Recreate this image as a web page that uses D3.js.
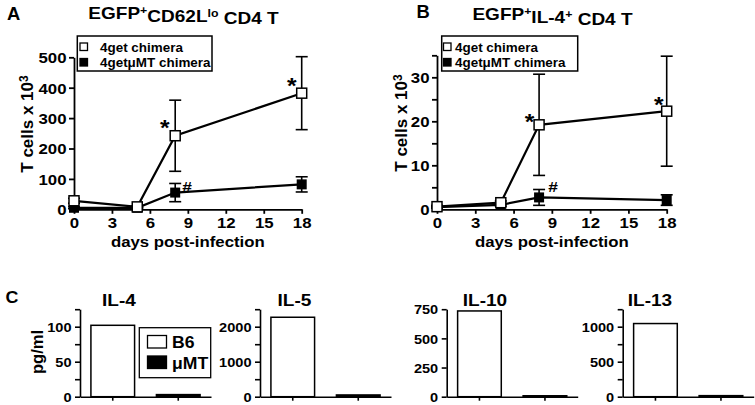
<!DOCTYPE html>
<html><head><meta charset="utf-8">
<script src="https://cdn.jsdelivr.net/npm/d3@7"></script>
<style>
body{margin:0;background:#fff}
svg{display:block}
text{font-family:"Liberation Sans",Arial,sans-serif;font-weight:bold;fill:#000}
</style>
</head><body>
<svg id="c" width="755" height="405"></svg>
<script>
// ---------- data ----------
const days = [0, 5, 8, 18];
const xTicks = [0, 3, 6, 9, 12, 15, 18];
const seriesNames = ["4get chimera", "4getμMT chimera"];

const aGet = [28, 8, 242, 382];
const aGetErr = [8, 3, 117, 120];
const aMT = [5, 5, 55, 82];
const aMTErr = [3, 2, 30, 25];
const aYTicks = [0, 100, 200, 300, 400, 500];

const bGet = [0.6, 1.5, 19.2, 22.3];
const bGetErr = [0.3, 0.4, 11.5, 12.5];
const bMT = [0.5, 1.0, 2.7, 2.1];
const bMTErr = [0.2, 0.3, 1.8, 1.2];
const bYTicks = [0, 10, 20, 30];
const bYMinor = [5, 15, 25, 35];

const cytokines = ["IL-4", "IL-5", "IL-10", "IL-13"];
const groups = ["B6", "μMT"];
const b6Vals = [102, 2270, 735, 1045];
const mtVals = [3, 50, 8, 15];
const cMax = [125, 2500, 750, 1250];
const cTicks = [[0, 50, 100], [0, 1000, 2000], [0, 250, 500, 750], [0, 500, 1000]];
const cMinor = [[25, 75, 125], [500, 1500, 2500], [], [250, 750, 1250]];

// ---------- helpers ----------
const SX = 1.12;
const svg = d3.select("#c");

function txt(x, y, str, size, anchor, sx) {
  return svg.append("text")
    .attr("transform", `translate(${x},${y}) scale(${sx == null ? SX : sx},1)`)
    .attr("text-anchor", anchor || "start")
    .style("font-size", size + "px")
    .text(str);
}

function styleAxis(g, w) {
  g.selectAll("path.domain").attr("stroke", "#000").attr("stroke-width", w);
  g.selectAll(".tick line").attr("stroke", "#000").attr("stroke-width", w);
}

function linePanel(o) {
  const x = d3.scaleLinear().domain([0, 18]).range([o.x0, o.x1]);
  const y = d3.scaleLinear().domain([0, o.ymax]).range([o.y0, o.y1]);

  // y axis
  const gy = svg.append("g").attr("transform", `translate(${o.x0},0)`)
    .call(d3.axisLeft(y).tickValues(o.yTicks.concat(o.yMinor || [])).tickSize(5).tickSizeOuter(0)
      .tickFormat(d => o.yTicks.includes(d) ? d : ""));
  styleAxis(gy, 1.8);
  gy.selectAll("text").attr("x", -7.5 / SX).attr("dy", "0.36em")
    .attr("transform", `scale(${SX},1)`).style("font-size", "15px")
    .style("font-family", '"Liberation Sans",Arial,sans-serif').style("font-weight", "bold");

  // x axis
  const gx = svg.append("g").attr("transform", `translate(0,${o.y0})`)
    .call(d3.axisBottom(x).tickValues(xTicks).tickSize(4.5).tickSizeOuter(0));
  styleAxis(gx, 1.8);
  gx.selectAll("text").attr("y", 19).attr("dy", 0)
    .attr("transform", `scale(${SX},1)`).style("font-size", "15px")
    .style("font-family", '"Liberation Sans",Arial,sans-serif').style("font-weight", "bold");

  txt((o.x0 + o.x1) / 2, 246.5, "days post-infection", 15, "middle");

  // y title
  const yt = svg.append("text")
    .attr("transform", `translate(${o.ytX},${o.ytY}) rotate(-90)`)
    .attr("text-anchor", "middle").style("font-size", "17px");
  yt.append("tspan").text("T cells x 10");
  yt.append("tspan").attr("dy", "-0.45em").style("font-size", "12px").text("3");

  const line = d3.line().x((d, i) => x(days[i])).y(d => y(d));

  function series(vals, errs, filled) {
    const g = svg.append("g");
    g.append("path").datum(vals).attr("d", line).attr("fill", "none")
      .attr("stroke", "#000").attr("stroke-width", 2.2);
    const eb = g.selectAll(".eb").data(vals).join("g");
    eb.append("line").attr("x1", (d, i) => x(days[i])).attr("x2", (d, i) => x(days[i]))
      .attr("y1", (d, i) => y(d - errs[i])).attr("y2", (d, i) => y(d + errs[i]))
      .attr("stroke", "#000").attr("stroke-width", 1.6);
    [-1, 1].forEach(s => {
      eb.append("line").attr("x1", (d, i) => x(days[i]) - 6).attr("x2", (d, i) => x(days[i]) + 6)
        .attr("y1", (d, i) => y(d + s * errs[i])).attr("y2", (d, i) => y(d + s * errs[i]))
        .attr("stroke", "#000").attr("stroke-width", 1.6);
    });
    const sz = filled ? 8.5 : 10;
    g.selectAll("rect").data(vals).join("rect")
      .attr("x", (d, i) => x(days[i]) - sz / 2).attr("y", d => y(d) - sz / 2)
      .attr("width", sz).attr("height", sz)
      .attr("fill", filled ? "#000" : "#fff").attr("stroke", "#000").attr("stroke-width", 1.5);
  }
  series(o.mt, o.mtErr, true);
  series(o.get, o.getErr, false);

  // annotations
  o.notes.forEach(n => {
    const v = n.s === "get" ? o.get : o.mt;
    const i = days.indexOf(n.day);
    svg.append("text")
      .attr("transform", `translate(${x(n.day) + n.dx},${y(v[i]) + n.dy}) scale(${SX},1)`)
      .attr("text-anchor", "middle").style("font-size", n.t === "*" ? "22px" : "15.5px").text(n.t);
  });

  // legend
  const L = o.leg;
  svg.append("rect").attr("x", L.x).attr("y", L.y).attr("width", L.w).attr("height", 35)
    .attr("fill", "#fff").attr("stroke", "#000").attr("stroke-width", 1.5);
  seriesNames.forEach((nm, k) => {
    svg.append("rect").attr("x", L.mx).attr("y", L.y + 7 + k * 15.5).attr("width", 7.5).attr("height", 7.5)
      .attr("fill", k ? "#000" : "#fff").attr("stroke", "#000").attr("stroke-width", 1.3);
    txt(L.tx, L.y + 15.5 + k * 15, nm, 12, "start");
  });
}

// ---------- Panel A ----------
txt(7, 19.5, "A", 17.5, "start", 1.05);
{
  const t = svg.append("text").attr("transform", `translate(183.5,19) scale(${SX},1)`)
    .attr("text-anchor", "middle").style("font-size", "17px");
  t.append("tspan").text("EGFP");
  t.append("tspan").attr("dy", "-0.45em").style("font-size", "11px").text("+");
  t.append("tspan").attr("dy", "0.45em").text("CD62L");
  t.append("tspan").attr("dy", "-0.45em").style("font-size", "11px").text("lo");
  t.append("tspan").attr("dy", "0.45em").text(" CD4 T");
}
linePanel({
  x0: 74, x1: 301.7, y0: 209.3, y1: 57.3, ymax: 500, yTicks: aYTicks,
  get: aGet, getErr: aGetErr, mt: aMT, mtErr: aMTErr,
  ytX: 33, ytY: 124,
  notes: [{s: "get", day: 8, t: "*", dx: -10.5, dy: -1}, {s: "get", day: 18, t: "*", dx: -10, dy: -0.5},
          {s: "mt", day: 8, t: "#", dx: 12, dy: -0.8}],
  leg: {x: 77.3, y: 36, w: 134.7, mx: 80, tx: 100}
});

// ---------- Panel B ----------
txt(416.5, 17.5, "B", 17.5, "start", 1.05);
{
  const t = svg.append("text").attr("transform", `translate(552.5,20) scale(${SX},1)`)
    .attr("text-anchor", "middle").style("font-size", "17px");
  t.append("tspan").text("EGFP");
  t.append("tspan").attr("dy", "-0.45em").style("font-size", "11px").text("+");
  t.append("tspan").attr("dy", "0.45em").text("IL-4");
  t.append("tspan").attr("dy", "-0.45em").style("font-size", "11px").text("+");
  t.append("tspan").attr("dy", "0.45em").text(" CD4 T");
}
linePanel({
  x0: 437, x1: 666.7, y0: 209.3, y1: 209.3 - 35 * 4.4, ymax: 35, yTicks: bYTicks, yMinor: bYMinor,
  get: bGet, getErr: bGetErr, mt: bMT, mtErr: bMTErr,
  ytX: 407, ytY: 123,
  notes: [{s: "get", day: 8, t: "*", dx: -9.5, dy: 4.4}, {s: "get", day: 18, t: "*", dx: -8, dy: 1.3},
          {s: "mt", day: 8, t: "#", dx: 14, dy: -5.3}],
  leg: {x: 441.7, y: 36, w: 136, mx: 443.5, tx: 455}
});

// ---------- Panel C ----------
txt(5.5, 303, "C", 17, "start", 1.05);
const cX0 = [80, 260, 446.7, 622.7];
const cTitleX = [119, 294.5, 485, 650];
const cW = 131;
const cY0 = 396.7;
const cTopPx = 87.5; // pixel height of cMax
cytokines.forEach((name, k) => {
  const x0 = cX0[k];
  const y = d3.scaleLinear().domain([0, cMax[k]]).range([cY0, cY0 - cTopPx]);
  const xb = d3.scaleBand().domain(groups).range([x0, x0 + cW]).paddingInner(1 / 3).paddingOuter(1 / 6);
  const vals = [b6Vals[k], mtVals[k]];
  svg.append("g").selectAll("rect").data(groups).join("rect")
    .attr("x", d => xb(d)).attr("width", xb.bandwidth())
    .attr("y", (d, i) => y(vals[i])).attr("height", (d, i) => cY0 - y(vals[i]))
    .attr("fill", (d, i) => i ? "#000" : "#fff").attr("stroke", "#000").attr("stroke-width", 1.5);
  const gy = svg.append("g").attr("transform", `translate(${x0},0)`)
    .call(d3.axisLeft(y).tickValues(cTicks[k].concat(cMinor[k])).tickSize(5).tickSizeOuter(0)
      .tickFormat(d => cTicks[k].includes(d) ? d : ""));
  styleAxis(gy, 1.6);
  gy.selectAll("text").attr("x", -8.5 / SX).attr("dy", "0.36em")
    .attr("transform", `scale(${SX},1)`).style("font-size", "13px")
    .style("font-family", '"Liberation Sans",Arial,sans-serif').style("font-weight", "bold");
  const gx = svg.append("g").attr("transform", `translate(0,${cY0})`)
    .call(d3.axisBottom(xb).tickSize(4).tickSizeOuter(0).tickFormat(""));
  styleAxis(gx, 1.6);
  txt(cTitleX[k], 305.5, name, 17, "middle");
});
svg.append("text").attr("transform", "translate(42.5,352) rotate(-90)")
  .attr("text-anchor", "middle").style("font-size", "16.5px").text("pg/ml");
svg.append("rect").attr("x", 139.3).attr("y", 327.7).attr("width", 71.4).attr("height", 50)
  .attr("fill", "#fff").attr("stroke", "#000").attr("stroke-width", 1.3);
groups.forEach((g, k) => {
  svg.append("rect").attr("x", 147.5).attr("y", 335.5 + k * 20.5).attr("width", 19).attr("height", 12.5)
    .attr("fill", k ? "#000" : "#fff").attr("stroke", "#000").attr("stroke-width", 1.3);
  txt(172, 348.3 + k * 20.5, g, 16, "start", 1.1);
});
</script>
</body></html>
